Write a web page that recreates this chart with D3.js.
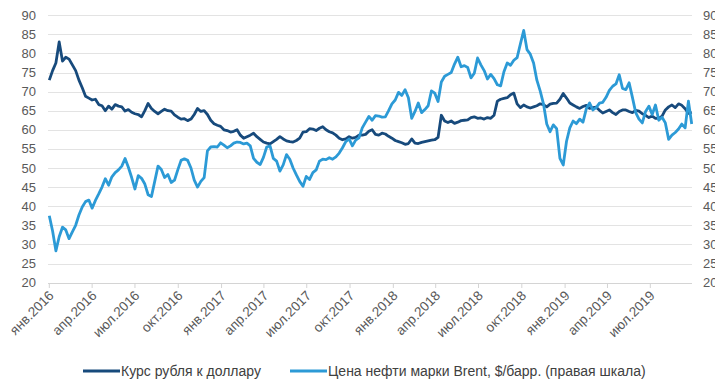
<!DOCTYPE html>
<html>
<head>
<meta charset="utf-8">
<script src="https://cdn.jsdelivr.net/npm/d3@7"></script>
<style>
  body { margin: 0; background: #fff; }
  svg { display: block; font-family: "Liberation Sans", Arial, sans-serif; }
</style>
</head>
<body>
<div id="chart"></div>
<script>
// weekly observations (Fridays) starting 1 Jan 2016
var startDate = new Date(Date.UTC(2016, 0, 1));

var rub = [
	73.0, 75.5, 77.5, 83.0, 78.0, 79.0, 78.5, 77.0, 75.5, 73.0, 71.0, 68.8, 68.3, 67.8, 68.0, 66.6, 66.3, 65.0, 66.2, 65.4,
	66.6, 66.2, 66.0, 64.9, 65.3, 64.6, 64.2, 64.0, 63.4, 65.0, 66.9, 65.6, 64.8, 64.2, 64.8, 65.4, 65.0, 64.9, 63.9, 63.3,
	62.8, 62.9, 62.4, 62.8, 64.0, 65.6, 64.8, 65.0, 64.0, 62.5, 61.6, 61.2, 60.9, 60.0, 59.8, 59.4, 59.6, 60.0, 58.6, 57.8,
	58.2, 58.6, 59.1, 58.2, 57.5, 56.8, 56.5, 56.3, 56.9, 57.5, 58.2, 57.6, 57.1, 56.9, 56.8, 57.2, 57.8, 59.4, 59.5, 60.3,
	60.2, 59.8, 60.4, 60.8, 60.0, 59.5, 59.2, 58.6, 57.8, 57.4, 57.6, 58.2, 57.8, 58.0, 58.6, 58.6, 58.8, 59.6, 60.0, 58.8,
	58.6, 59.1, 58.9, 58.3, 57.8, 57.2, 56.9, 56.6, 56.2, 56.4, 57.6, 56.5, 56.4, 56.7, 56.9, 57.1, 57.3, 57.4, 58.0, 63.8,
	62.3, 61.9, 62.3, 61.7, 62.0, 62.4, 62.5, 62.6, 63.2, 63.4, 63.0, 63.1, 62.8, 63.2, 63.0, 63.8, 67.5, 68.0, 68.2, 68.4,
	69.2, 69.6, 66.8, 65.8, 66.5, 66.0, 65.7, 66.0, 66.3, 66.8, 66.6, 66.0, 66.7, 66.9, 67.0, 68.0, 69.5, 68.3, 67.0, 66.5,
	66.0, 65.6, 66.1, 66.4, 65.6, 65.8, 65.9, 65.1, 64.4, 64.8, 65.2, 64.5, 64.0, 64.8, 65.2, 65.2, 64.8, 64.5, 65.1, 64.9,
	64.2, 63.8, 63.2, 63.6, 63.0, 63.0, 63.6, 65.2, 66.0, 66.5, 65.8, 66.8, 66.4, 65.5, 64.3, 64.6
];

var brent = [
	37.5, 33.5, 28.3, 32.0, 34.5, 33.8, 31.5, 33.3, 35.0, 37.7, 39.8, 41.2, 41.6, 39.5, 41.5, 43.2, 45.0, 47.2, 45.5, 47.7,
	48.8, 49.5, 50.5, 52.5, 50.2, 47.5, 44.5, 48.0, 47.3, 45.8, 43.0, 42.5, 46.5, 50.5, 49.6, 47.5, 48.3, 46.2, 46.8, 49.5,
	52.0, 52.4, 52.0, 50.0, 46.8, 45.0, 46.5, 47.5, 54.5, 55.5, 55.6, 55.5, 56.6, 56.0, 55.3, 55.8, 56.5, 56.8, 56.7, 56.3,
	56.5, 55.8, 52.5, 51.5, 50.9, 52.8, 55.5, 55.8, 52.5, 51.8, 49.2, 50.8, 53.5, 52.3, 50.0, 48.2, 46.5, 45.2, 47.8, 47.0,
	48.8, 49.5, 51.8, 52.3, 52.2, 52.7, 52.3, 52.9, 53.9, 55.3, 56.9, 57.6, 55.8, 57.3, 57.9, 60.5, 62.0, 63.5, 62.5, 63.7,
	63.6, 63.3, 63.4, 65.0, 66.8, 67.8, 69.8, 69.0, 70.5, 68.4, 63.0, 64.8, 67.0, 64.5, 65.3, 66.3, 70.2, 69.6, 67.4, 72.5,
	74.0, 74.5, 75.0, 77.2, 79.0, 76.5, 76.8, 76.3, 73.6, 74.8, 78.8, 77.0, 75.5, 73.3, 74.5, 73.4, 71.8, 71.5, 75.2, 77.5,
	76.9, 78.2, 78.9, 82.5, 86.0, 81.0, 79.8, 77.5, 73.0, 70.2, 66.8, 61.5, 59.5, 61.3, 60.3, 52.5, 50.8, 57.0, 60.5, 62.3,
	61.6, 62.8, 62.0, 65.5, 67.0, 65.2, 65.8, 67.0, 67.2, 68.5, 70.3, 71.4, 72.0, 74.4, 70.8, 70.5, 72.3, 68.5, 64.5, 62.8,
	61.8, 64.8, 66.2, 64.0, 66.5, 62.5, 63.3, 61.8, 57.5, 58.6, 59.3, 60.2, 61.5, 60.5, 67.5, 61.5
];

var tickMonths = ['янв', 'апр', 'июл', 'окт'];
var yTicks = [20, 25, 30, 35, 40, 45, 50, 55, 60, 65, 70, 75, 80, 85, 90];
var seriesNames = ['Курс рубля к доллару', 'Цена нефти марки Brent, $/барр. (правая шкала)'];
var seriesColors = ['#174a7c', '#2c9ad6'];

var width = 715, height = 382;

var dates = rub.map(function(d, i) { return d3.utcDay.offset(startDate, 7 * i); });

var x = d3.scaleUtc()
	.domain([new Date(Date.UTC(2016, 0, 1)), new Date(Date.UTC(2019, 6, 1))])
	.range([49.3, 650.3]);

var yLeft = d3.scaleLinear().domain([20, 90]).range([282.6, 15.2]);
var yRight = d3.scaleLinear().domain([20, 90]).range([282.6, 15.2]);

var plotLeft = 48, plotRight = 692;

var svg = d3.select('#chart').append('svg')
	.attr('width', width)
	.attr('height', height);

// gridlines
svg.append('g')
	.selectAll('line')
	.data(yTicks.slice(1))
	.enter()
	.append('line')
	.attr('x1', plotLeft)
	.attr('x2', plotRight)
	.attr('y1', function(d) { return Math.round(yLeft(d)) + 0.5 })
	.attr('y2', function(d) { return Math.round(yLeft(d)) + 0.5 })
	.attr('stroke', '#e3e3e3')
	.attr('stroke-width', 1);

// bottom axis line + quarter ticks
svg.append('line')
	.attr('x1', plotLeft).attr('x2', plotRight)
	.attr('y1', Math.round(yLeft(20)) + 0.5).attr('y2', Math.round(yLeft(20)) + 0.5)
	.attr('stroke', '#d4d4d4');

var quarterTicks = d3.utcMonth.every(3).range(new Date(Date.UTC(2016, 0, 1)), new Date(Date.UTC(2019, 7, 1)));

var xTick = svg.append('g')
	.selectAll('g')
	.data(quarterTicks)
	.enter()
	.append('g')
	.attr('transform', function(d) { return 'translate(' + x(d) + ',' + Math.round(yLeft(20)) + ')' });

xTick.append('line')
	.attr('y1', 0).attr('y2', 5)
	.attr('stroke', '#d4d4d4');

xTick.append('text')
	.attr('transform', 'translate(2,10) rotate(-45)')
	.attr('text-anchor', 'end')
	.attr('dy', '0.35em')
	.attr('font-size', 13.5)
	.attr('fill', '#595959')
	.text(function(d) { return tickMonths[d.getUTCMonth() / 3] + '.' + d.getUTCFullYear() });

// y labels
svg.append('g')
	.selectAll('text')
	.data(yTicks)
	.enter()
	.append('text')
	.attr('x', 36)
	.attr('y', function(d) { return yLeft(d) })
	.attr('dy', '0.35em')
	.attr('text-anchor', 'end')
	.attr('font-size', 13)
	.attr('fill', '#595959')
	.text(function(d) { return d });

svg.append('g')
	.selectAll('text')
	.data(yTicks)
	.enter()
	.append('text')
	.attr('x', 703)
	.attr('y', function(d) { return yRight(d) })
	.attr('dy', '0.35em')
	.attr('text-anchor', 'start')
	.attr('font-size', 13)
	.attr('fill', '#595959')
	.text(function(d) { return d });

// series
var lineLeft = d3.line()
	.x(function(d, i) { return x(dates[i]) })
	.y(function(d) { return yLeft(d) });

var lineRight = d3.line()
	.x(function(d, i) { return x(dates[i]) })
	.y(function(d) { return yRight(d) });

svg.append('path')
	.datum(rub)
	.attr('d', lineLeft)
	.attr('fill', 'none')
	.attr('stroke', seriesColors[0])
	.attr('stroke-width', 2.8)
	.attr('stroke-linejoin', 'round');

svg.append('path')
	.datum(brent)
	.attr('d', lineRight)
	.attr('fill', 'none')
	.attr('stroke', seriesColors[1])
	.attr('stroke-width', 2.8)
	.attr('stroke-linejoin', 'round');

// legend
var legendX = [83, 290];
var legend = svg.append('g')
	.selectAll('g')
	.data(seriesNames)
	.enter()
	.append('g')
	.attr('transform', function(d, i) { return 'translate(' + legendX[i] + ',371)' });

legend.append('line')
	.attr('x1', 0).attr('x2', 37)
	.attr('stroke', function(d, i) { return seriesColors[i] })
	.attr('stroke-width', 3);

legend.append('text')
	.attr('x', 38)
	.attr('dy', '0.35em')
	.attr('font-size', 14)
	.attr('fill', '#404040')
	.text(function(d) { return d });
</script>
</body>
</html>
